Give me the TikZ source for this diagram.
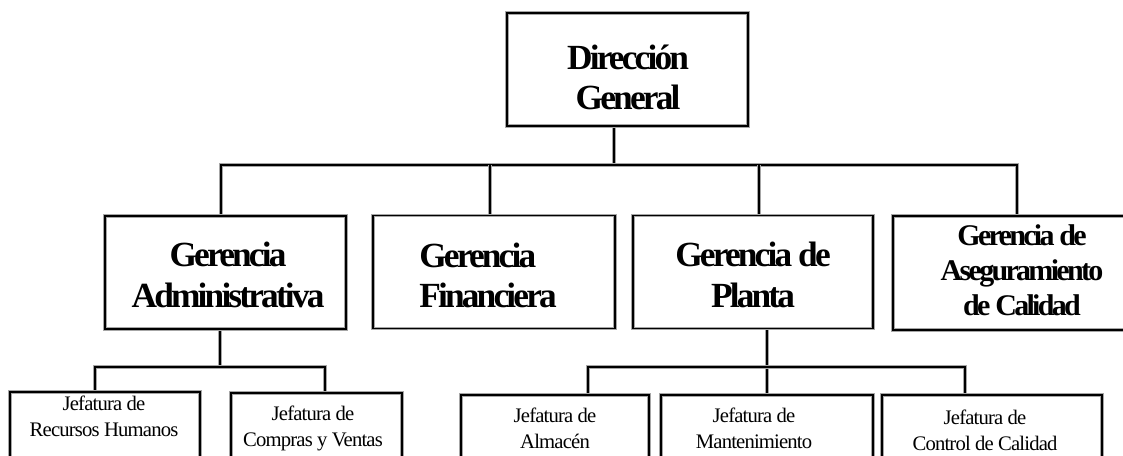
\documentclass[tikz,border=0pt]{standalone}
\usepackage{fontspec}
\setmainfont{Liberation Serif}
\newfontfamily\gfont{Liberation Serif}[LetterSpace=-8]
\newfontfamily\qfont{Liberation Serif}[LetterSpace=-9]
\newfontfamily\jfont{Liberation Serif}[LetterSpace=-4]
\usetikzlibrary{backgrounds}
\newcommand\orgwire[1]{\draw[gray!70,line width=2.8pt]#1;\draw[black,line width=1.3pt]#1;}
\newcommand\orgbox[5]{\node[box, minimum width={#4*0.75pt}, minimum height={#5*0.75pt}] (#1) at (#2,#3) {};}
\begin{document}
\begin{tikzpicture}[x=0.75pt,y=-0.75pt,
  box/.style={draw=gray!70, double=black, line width=0.7pt, double distance=1.3pt, fill=white, inner sep=0pt, outer sep=0pt},
  bigtext/.style={align=center, inner sep=0pt, font=\gfont\bfseries\fontsize{26.5}{30.4}\selectfont},
  qtext/.style={align=center, inner sep=0pt, font=\qfont\bfseries\fontsize{22.5}{26.25}\selectfont},
  jtext/.style={align=center, inner sep=0pt, font=\jfont\fontsize{15.5}{19.5}\selectfont}]
\useasboundingbox (0,0) rectangle (1123,456);
\clip (0,0) rectangle (1123,456);
% boxes
\orgbox{dg}{627.5}{69.5}{241}{113}
\orgbox{ga}{225.5}{272.5}{241}{113}
\orgbox{gf}{494}{272}{242}{113}
\orgbox{gp}{753}{272}{240}{113}
\orgbox{gq}{1013.5}{273}{241}{114}
\orgbox{jr}{105}{446}{190}{108}
\orgbox{jc}{316.5}{446.5}{171}{107}
\orgbox{ja}{555}{447.5}{188}{105}
\orgbox{jm}{767}{447.5}{212}{105}
\orgbox{jk}{992}{447.5}{220}{105}
% connectors
\coordinate (t0) at (614,165);
\coordinate (ba) at (221,165);
\coordinate (bf) at (490,165);
\coordinate (bp) at (759,165);
\coordinate (bq) at (1017,165);
\coordinate (la) at (220,367);
\coordinate (lr) at (95,367);
\coordinate (lc) at (325,367);
\coordinate (pa) at (588,367);
\coordinate (pm) at (767,367);
\coordinate (pk) at (965,367);
\begin{scope}[on background layer]
\orgwire{(dg.south -| t0) -- (t0)}
\orgwire{(ga.north -| ba) -- (ba) -- (bq) -- (gq.north -| bq)}
\orgwire{(bf) -- (gf.north -| bf)}
\orgwire{(bp) -- (gp.north -| bp)}
\orgwire{(ga.south -| la) -- (la)}
\orgwire{(jr.north -| lr) -- (lr) -- (lc) -- (jc.north -| lc)}
\orgwire{(gp.south -| pm) -- (jm.north -| pm)}
\orgwire{(ja.north -| pa) -- (pa) -- (pk) -- (jk.north -| pk)}
\end{scope}
% texts
\node[bigtext] (tdg) at (628,77.5) {Dirección\\General};
\node[bigtext] (tga) at (228,275) {Gerencia\\Administrativa};
\node[bigtext, align=left] (tgf) at (488,275.5) {Gerencia\\Financiera};
\node[bigtext] (tgp) at (753,275) {Gerencia de\\Planta};
\node[qtext] (tgq) at (1022,270) {Gerencia de\\Aseguramiento\\de Calidad};
\node[jtext] (tjr) at (104,416) {Jefatura de\\Recursos Humanos};
\node[jtext] (tjc) at (313,428.5) {Jefatura de\\Compras y Ventas};
\node[jtext] (tja) at (555,428) {Jefatura de\\Almacén};
\node[jtext] (tjm) at (754,428) {Jefatura de\\Mantenimiento};
\node[jtext] (tjk) at (985,430) {Jefatura de\\Control de Calidad};
\end{tikzpicture}
\end{document}
